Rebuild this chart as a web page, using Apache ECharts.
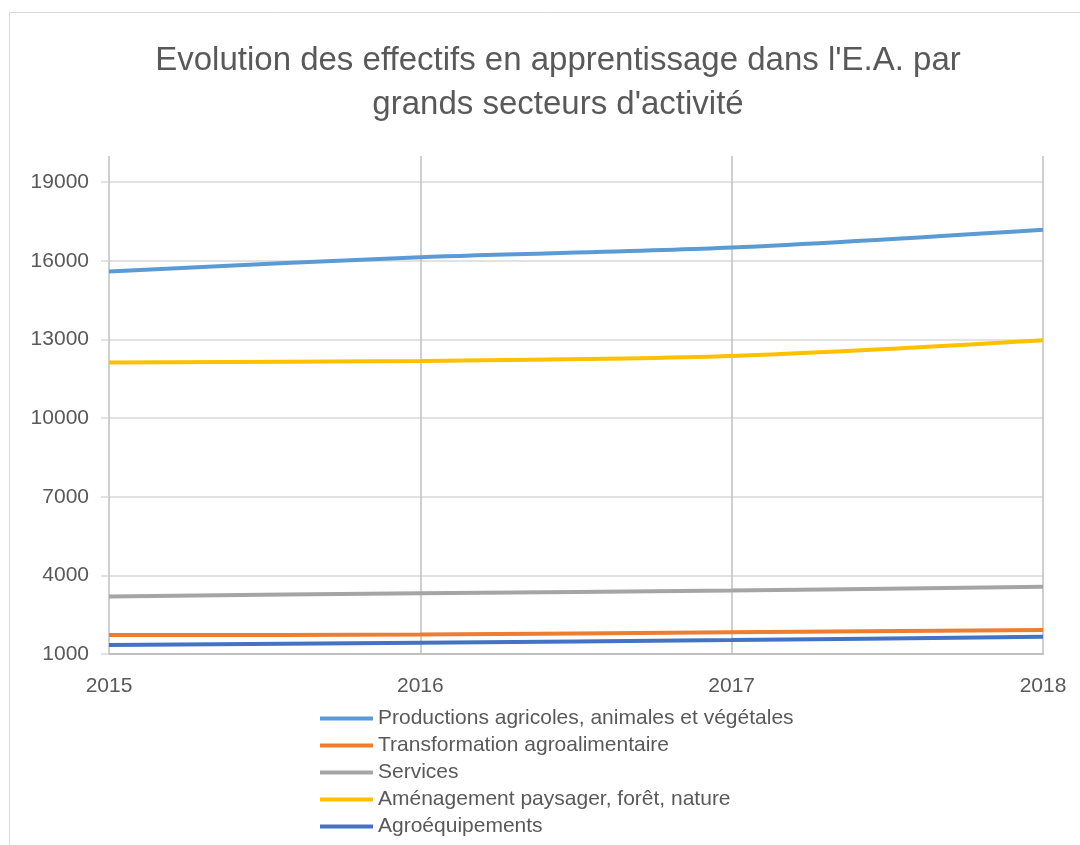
<!DOCTYPE html>
<html>
<head>
<meta charset="utf-8">
<script src="https://cdn.jsdelivr.net/npm/echarts@6/dist/echarts.min.js"></script>
<style>
  html, body { margin: 0; padding: 0; background: #fff; }
  #chart { width: 1080px; height: 845px; }
</style>
</head>
<body>
<div id="chart"></div>
<script>
// Années (axe des abscisses)
const years = ['2015', '2016', '2017', '2018'];

// Effectifs
const productions = [15590, 16140, 16510, 17190];
const transformation = [1725, 1740, 1830, 1915];
const services = [3190, 3320, 3420, 3570];
const amenagement = [12120, 12180, 12370, 12970];
const agroequipements = [1340, 1430, 1530, 1660];

const seriesNames = [
  'Productions agricoles, animales et végétales',
  'Transformation agroalimentaire',
  'Services',
  'Aménagement paysager, forêt, nature',
  'Agroéquipements'
];
const seriesData = [productions, transformation, services, amenagement, agroequipements];
const colors = ['#5B9BD5', '#ED7D31', '#A5A5A5', '#FFC000', '#4472C4'];

const FONT = '"Liberation Sans", Arial, sans-serif';

const chart = echarts.init(document.getElementById('chart'), null, { renderer: 'canvas' });
chart.setOption({
  animation: false,
  textStyle: { fontFamily: FONT },
  title: {
    text: "Evolution des effectifs en apprentissage dans l'E.A. par\ngrands secteurs d'activité",
    left: 553, top: 34, textAlign: 'center',
    textStyle: { fontSize: 33, fontWeight: 'normal', color: '#595959', lineHeight: 44, fontFamily: FONT }
  },
  graphic: [{
    type: 'rect', silent: true,
    shape: { x: 9.5, y: 12.5, width: 1200, height: 1000 },
    style: { fill: 'none', stroke: '#D9D9D9', lineWidth: 1 }
  }],
  legend: {
    orient: 'vertical', left: 315, top: 703,
    itemWidth: 53, itemHeight: 4, itemGap: 6,
    icon: 'rect',
    textStyle: { fontSize: 21, color: '#595959', fontFamily: FONT },
    data: seriesNames
  },
  grid: { left: 109, right: 37, top: 156, bottom: 191 },
  xAxis: {
    type: 'category', data: years, boundaryGap: false,
    axisLine: { show: true, lineStyle: { color: '#BFBFBF', width: 2 } },
    axisTick: { show: false },
    axisLabel: { fontSize: 21, color: '#595959', margin: 22, fontFamily: FONT },
    splitLine: { show: true, lineStyle: { color: '#BFBFBF', width: 1.5 } }
  },
  yAxis: {
    type: 'value', min: 1000, max: 20000, interval: 3000,
    axisLine: { show: false },
    axisTick: { show: true, length: 8, lineStyle: { color: '#D9D9D9', width: 1.5 } },
    axisLabel: {
      fontSize: 21, color: '#595959', margin: 20, showMaxLabel: false, fontFamily: FONT,
      formatter: v => String(v)
    },
    splitLine: { show: true, showMaxLine: false, lineStyle: { color: '#D9D9D9', width: 1.5 } }
  },
  series: seriesNames.map((name, i) => ({
    name, type: 'line', data: seriesData[i], smooth: 0.3,
    showSymbol: false, symbol: 'none',
    lineStyle: { color: colors[i], width: 4 },
    itemStyle: { color: colors[i] }
  }))
});
</script>
</body>
</html>
